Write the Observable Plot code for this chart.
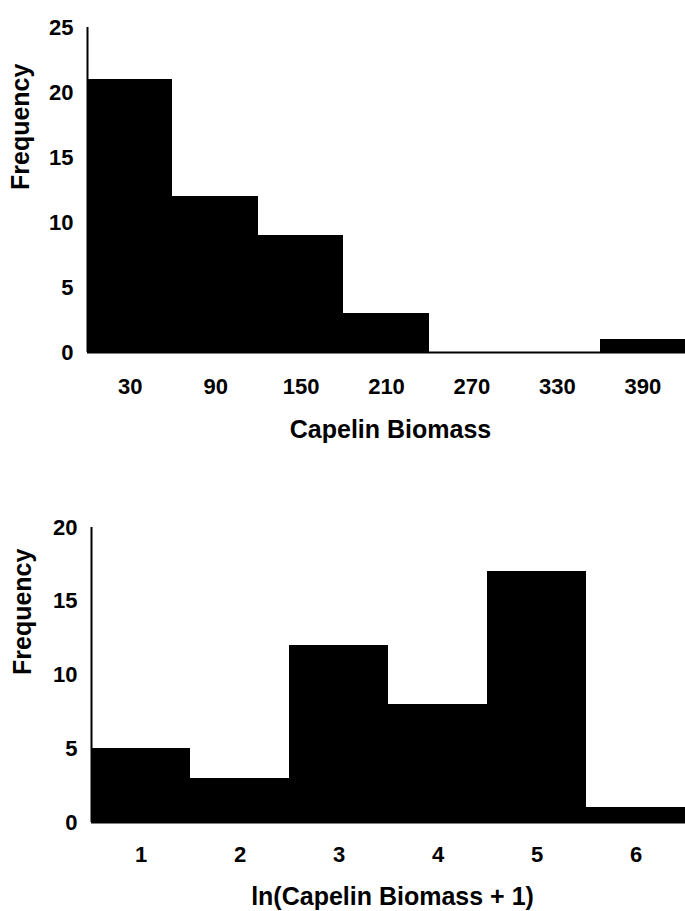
<!DOCTYPE html>
<html><head><meta charset="utf-8">
<script src="https://cdn.jsdelivr.net/npm/d3@7"></script>
<script src="https://cdn.jsdelivr.net/npm/@observablehq/plot@0.6"></script>
<style>
body{margin:0;background:#fff;}
#chart{width:685px;height:911px;overflow:hidden;position:relative;background:#fff;}
svg{display:block;}
</style></head><body><div id="chart"></div>
<script>
// Top panel: raw capelin biomass (bins of width 60)
const rawEdges = [0, 60, 120, 180, 240, 300, 360, 420];
const rawCounts = [21, 12, 9, 3, 0, 0, 1];
const rawTicks = [30, 90, 150, 210, 270, 330, 390];
const rawYTicks = [0, 5, 10, 15, 20, 25];
const rawYMax = 25;
const rawLabel = "Capelin Biomass";

// Bottom panel: ln(biomass + 1)
const logEdges = [0.5, 1.5, 2.5, 3.5, 4.5, 5.5, 6.5];
const logCounts = [5, 3, 12, 8, 17, 1];
const logTicks = [1, 2, 3, 4, 5, 6];
const logYTicks = [0, 5, 10, 15, 20];
const logYMax = 20;
const logLabel = "ln(Capelin Biomass + 1)";

const yLabel = "Frequency";
const FONT = "'Liberation Sans', Arial, Helvetica, sans-serif";

function hist(edges, counts, xTicks, yTicks, yMax, xLabel, L) {
  const bins = counts.map((c, i) => ({x1: edges[i], x2: edges[i + 1], count: c}));
  return Plot.plot({
    width: 685,
    height: L.height,
    marginTop: L.marginTop,
    marginBottom: L.marginBottom,
    marginLeft: L.marginLeft,
    marginRight: 0,
    style: {fontFamily: FONT, fontSize: "22px", background: "white", color: "black", overflow: "visible"},
    x: {domain: [edges[0], edges[edges.length - 1]]},
    y: {domain: [0, yMax]},
    marks: [
      Plot.rectY(bins, {x1: "x1", x2: "x2", y: "count", fill: "black", shapeRendering: "crispEdges"}),
      Plot.ruleY([0], {stroke: "black", strokeWidth: 2}),
      Plot.ruleX([edges[0]], {y1: 0, y2: yMax, stroke: "black", strokeWidth: 2}),
      Plot.axisX({ticks: xTicks, tickFormat: d3.format("d"), tickSize: 0, tickPadding: L.xPad, fontSize: 22, fontWeight: "bold", label: null}),
      Plot.axisY({ticks: yTicks, tickFormat: d3.format("d"), tickSize: 0, tickPadding: 14, fontSize: 22, fontWeight: "bold", label: null}),
      Plot.text([xLabel], {frameAnchor: "bottom", lineAnchor: "middle", dy: L.titleDy, dx: 4, fontSize: 25, fontWeight: "bold", fill: "black"}),
      Plot.text([yLabel], {frameAnchor: "left", lineAnchor: "middle", rotate: -90, dx: L.yTitleDx, fontSize: 25, fontWeight: "bold", fill: "black"})
    ]
  });
}

const chart = document.getElementById("chart");
chart.append(hist(rawEdges, rawCounts, rawTicks, rawYTicks, rawYMax, rawLabel,
  {height: 460, marginTop: 27, marginBottom: 108, marginLeft: 87, xPad: 26, titleDy: 77, yTitleDx: -67}));
chart.append(hist(logEdges, logCounts, logTicks, logYTicks, logYMax, logLabel,
  {height: 451, marginTop: 67, marginBottom: 89, marginLeft: 91, xPad: 24, titleDy: 74, yTitleDx: -69}));
</script>
</body></html>
